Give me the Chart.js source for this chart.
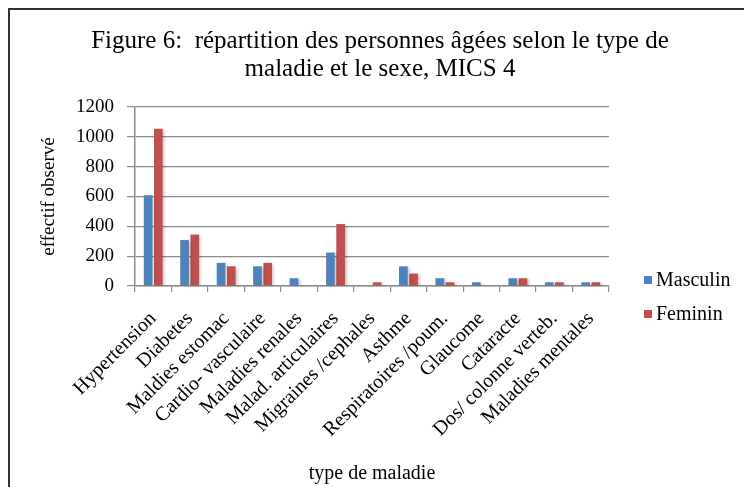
<!DOCTYPE html>
<html lang="fr">
  <head>
    <meta charset="UTF-8" />
    <title>Figure 6</title>
    <script src="https://cdn.jsdelivr.net/npm/chart.js"></script>
    <style>
      html, body { margin: 0; padding: 0; background: #fff; }
      .chart-container { position: relative; width: 744px; height: 487px; }
    </style>
  </head>
  <body>
    <div class="chart-container">
      <canvas id="maladiesChart"></canvas>
    </div>
    <script>
      const categories = [
        "Hypertension", "Diabetes", "Maldies estomac", "Cardio- vasculaire",
        "Maladies renales", "Malad. articulaires", "Migraines /cephales",
        "Asthme", "Respiratoires /poum.", "Glaucome", "Cataracte",
        "Dos/ colonne verteb.", "Maladies mentales"
      ];
      const masculin = [608, 308, 155, 132, 52, 224, 0, 132, 52, 25, 52, 25, 25];
      const feminin = [1055, 345, 132, 155, 0, 415, 25, 83, 25, 0, 52, 25, 25];
      const seriesNames = ["Masculin", "Feminin"];
      const yTicks = [0, 200, 400, 600, 800, 1000, 1200];
      const titleLines = [
        "Figure 6:  répartition des personnes âgées selon le type de",
        "maladie et le sexe, MICS 4",
      ];

      const serif = "'Liberation Serif', 'Times New Roman', serif";
      const colors = ["#4F81BD", "#C0504D"];

      // frame of the original figure (only top and left edges show)
      const framePlugin = {
        id: "frame",
        beforeDraw(chart) {
          const ctx = chart.ctx;
          ctx.save();
          ctx.strokeStyle = "#333";
          ctx.lineWidth = 2;
          ctx.beginPath();
          ctx.moveTo(9, chart.height);
          ctx.lineTo(9, 9);
          ctx.lineTo(chart.width, 9);
          ctx.stroke();
          ctx.restore();
        },
      };

      // title centred on the whole figure, not on the padded box
      const titlePlugin = {
        id: "figTitle",
        afterDraw(chart) {
          const ctx = chart.ctx;
          ctx.save();
          ctx.font = "25px " + serif;
          ctx.fillStyle = "#000";
          ctx.textAlign = "center";
          ctx.textBaseline = "middle";
          ctx.fillText(titleLines[0], 380, 41);
          ctx.fillText(titleLines[1], 380, 69);
          ctx.restore();
        },
      };

      // soft shadow under the bars like the office chart
      const shadowPlugin = {
        id: "barShadow",
        beforeDatasetsDraw(chart) {
          const ctx = chart.ctx;
          ctx.save();
          ctx.shadowColor = "rgba(0,0,0,0.22)";
          ctx.shadowBlur = 3;
          ctx.shadowOffsetX = 2;
          ctx.shadowOffsetY = 1;
        },
        afterDatasetsDraw(chart) {
          chart.ctx.restore();
        },
      };

      // legend sits right of the plot, lower than centre
      const legendPlugin = {
        id: "sideLegend",
        afterDraw(chart) {
          const ctx = chart.ctx;
          ctx.save();
          ctx.font = "20px " + serif;
          ctx.textBaseline = "middle";
          ctx.textAlign = "left";
          const rows = [280, 314];
          seriesNames.forEach((name, i) => {
            ctx.fillStyle = colors[i];
            ctx.fillRect(644, rows[i] - 4, 8, 8);
            ctx.fillStyle = "#000";
            ctx.fillText(name, 656, rows[i] + 1);
          });
          ctx.restore();
        },
      };

      const ctx = document.getElementById("maladiesChart").getContext("2d");
      new Chart(ctx, {
        type: "bar",
        data: {
          labels: categories,
          datasets: [
            {
              label: seriesNames[0],
              data: masculin,
              backgroundColor: colors[0],
              categoryPercentage: 0.56,
              barPercentage: 0.85,
            },
            {
              label: seriesNames[1],
              data: feminin,
              backgroundColor: colors[1],
              categoryPercentage: 0.56,
              barPercentage: 0.85,
            },
          ],
        },
        options: {
          responsive: true,
          maintainAspectRatio: false,
          animation: false,
          layout: { padding: { left: 0, right: 135, top: 107, bottom: 0 } },
          plugins: {
            legend: { display: false },
            tooltip: { enabled: false },
            title: { display: false },
          },
          scales: {
            x: {
              grid: {
                drawOnChartArea: false,
                drawTicks: true,
                tickLength: 6,
                color: "#8c8c8c",
                lineWidth: 1.2,
              },
              border: { color: "#8c8c8c", width: 1.5 },
              ticks: {
                color: "#000",
                font: { family: serif, size: 20 },
                minRotation: 45,
                maxRotation: 45,
                padding: 15,
                autoSkip: false,
              },
              title: {
                display: true,
                text: "type de maladie",
                color: "#000",
                font: { family: serif, size: 20 },
                padding: { top: 1, bottom: 1 },
              },
              afterFit(scale) {
                scale.height = 487 - 286;
              },
            },
            y: {
              min: 0,
              max: 1200,
              afterBuildTicks(scale) {
                scale.ticks = yTicks.map((v) => ({ value: v }));
              },
              grid: {
                color: "#8c8c8c",
                lineWidth: 1.2,
                tickLength: 8,
              },
              border: { color: "#8c8c8c", width: 1.5 },
              ticks: {
                color: "#000",
                font: { family: serif, size: 19 },
                padding: 13,
                callback: (v) => String(v),
              },
              title: {
                display: true,
                text: "effectif observé",
                color: "#000",
                font: { family: serif, size: 19 },
                padding: { top: 38, bottom: 0 },
              },
              afterFit(scale) {
                scale.width = 135;
              },
            },
          },
        },
        plugins: [framePlugin, titlePlugin, shadowPlugin, legendPlugin],
      });
    </script>
  </body>
</html>
